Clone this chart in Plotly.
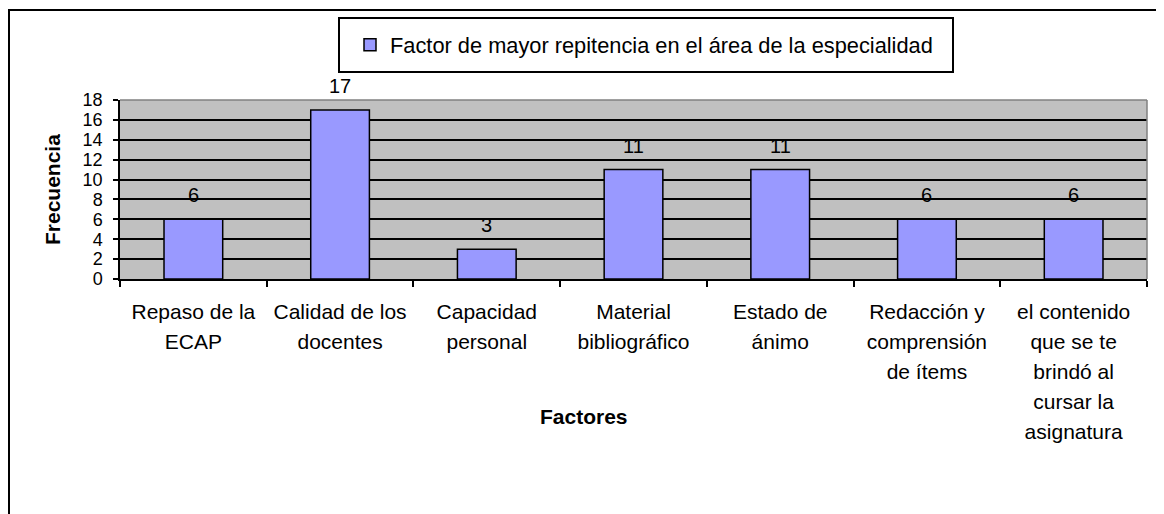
import plotly.graph_objects as go

# data
factores = [
    "Repaso de la<br>ECAP",
    "Calidad de los<br>docentes",
    "Capacidad<br>personal",
    "Material<br>bibliográfico",
    "Estado de<br>ánimo",
    "Redacción y<br>comprensión<br>de ítems",
    "el contenido<br>que se te<br>brindó al<br>cursar la<br>asignatura",
]
frecuencia = [6, 17, 3, 11, 11, 6, 6]
serie = "Factor de mayor repitencia en el área de la especialidad"
y_ticks = list(range(0, 19, 2))

FONT = "Liberation Sans, Arial, sans-serif"

# page offset: the browser body adds 8px around the figure
OFF = 8
# plot area in page pixels, used to place the frame/legend box in paper coords
L, R, T, B = 120, 1147, 100, 279
W, H = R - L, B - T


def px_x(x):
    return (x - L) / W


def px_y(y):
    return (B - y) / H


fig = go.Figure()

fig.add_trace(
    go.Bar(
        x=factores,
        y=frecuencia,
        name=serie,
        marker=dict(color="#9999FF", line=dict(color="black", width=1.5)),
        showlegend=True,
    )
)

# data labels above each bar
for cat, val in zip(factores, frecuencia):
    fig.add_annotation(
        x=cat, y=val, text=str(val),
        showarrow=False, yanchor="bottom", yshift=11,
        font=dict(size=20, color="black", family=FONT),
    )

# axis titles
fig.add_annotation(
    xref="paper", yref="paper", x=px_x(52), y=px_y(190),
    xanchor="center", yanchor="middle",
    text="<b>Frecuencia</b>", textangle=-90, showarrow=False,
    font=dict(size=21, color="black", family=FONT),
)
fig.add_annotation(
    xref="paper", yref="paper", x=px_x(584), y=px_y(416),
    xanchor="center", yanchor="middle",
    text="<b>Factores</b>", showarrow=False,
    font=dict(size=21, color="black", family=FONT),
)

# outer chart frame (bottom runs off the page like the reference)
fig.add_shape(
    type="rect", xref="paper", yref="paper",
    x0=px_x(9), x1=px_x(1163), y0=px_y(560), y1=px_y(10),
    line=dict(color="black", width=2), fillcolor="rgba(0,0,0,0)",
)
# legend box
fig.add_shape(
    type="rect", xref="paper", yref="paper",
    x0=px_x(339), x1=px_x(953), y0=px_y(72), y1=px_y(18),
    line=dict(color="black", width=2), fillcolor="white", layer="below",
)
# grey top and right edges of plot area
fig.add_shape(type="line", xref="paper", yref="paper", x0=0, x1=1, y0=1, y1=1,
              line=dict(color="#808080", width=1.5))
fig.add_shape(type="line", xref="paper", yref="paper", x0=1, x1=1, y0=0, y1=1,
              line=dict(color="#808080", width=1.5))

fig.update_layout(
    width=1164 - OFF,
    height=514 - OFF,
    margin=dict(l=L - OFF, r=1164 - R, t=T - OFF, b=514 - B),
    paper_bgcolor="white",
    plot_bgcolor="#C0C0C0",
    bargap=0.6,
    font=dict(family=FONT, color="black", size=19),
    legend=dict(
        x=px_x(350), y=px_y(45), xanchor="left", yanchor="middle",
        bgcolor="rgba(0,0,0,0)", borderwidth=0,
        font=dict(size=21.8, family=FONT, color="black"),
    ),
    showlegend=True,
)

# tick labels: glyphs at 21px, but the wider Excel line spacing comes from a 23px tickfont
fig.update_xaxes(
    type="category",
    tickson="boundaries",
    ticks="outside", ticklen=6, tickwidth=1.5, tickcolor="black",
    showline=True, linecolor="black", linewidth=1.5,
    showgrid=False,
    tickmode="array",
    tickvals=factores,
    ticktext=['<span style="font-size:21px">' + t + "</span>" for t in factores],
    tickfont=dict(size=23, family=FONT, color="black"),
    tickangle=0,
    ticklabelstandoff=11,
)
fig.update_yaxes(
    range=[0, 18],
    tickvals=y_ticks,
    ticks="outside", ticklen=5, tickwidth=1.5, tickcolor="black",
    showline=True, linecolor="black", linewidth=1.5,
    showgrid=True, gridcolor="black", gridwidth=1.5,
    zeroline=False,
    tickfont=dict(size=18, family=FONT, color="black"),
    ticklabelstandoff=7,
)

fig.write_html("out.html")
